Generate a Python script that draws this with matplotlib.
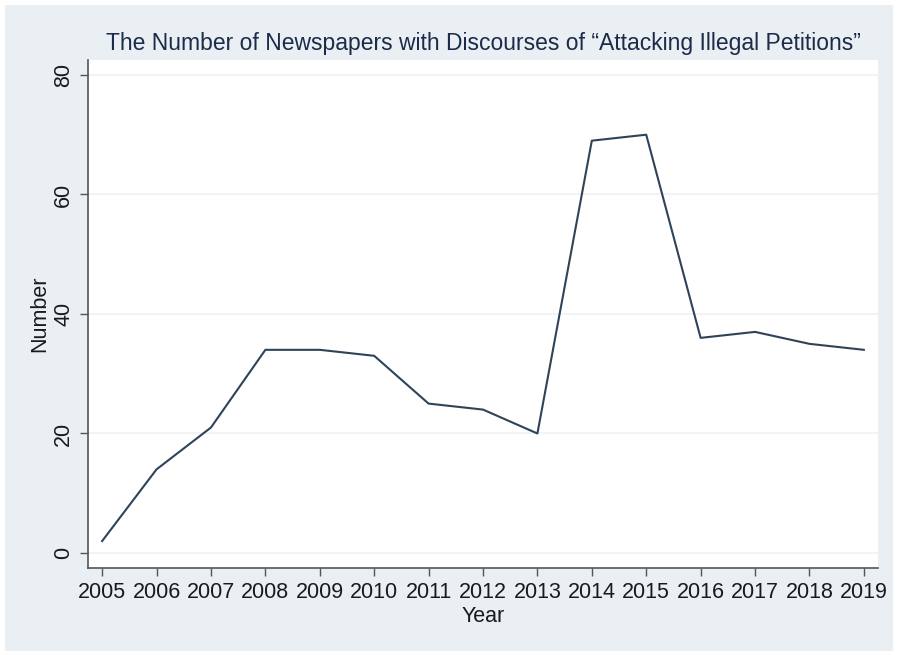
import matplotlib.pyplot as plt
from matplotlib.patches import Rectangle

years = [2005, 2006, 2007, 2008, 2009, 2010, 2011, 2012, 2013, 2014, 2015, 2016, 2017, 2018, 2019]
counts = [2, 14, 21, 34, 34, 33, 25, 24, 20, 69, 70, 36, 37, 35, 34]

plt.rcParams['font.family'] = ['Liberation Sans', 'DejaVu Sans']

fig = plt.figure(figsize=(8.98, 6.55), dpi=100)
fig.patch.set_facecolor("white")
# light stata-like background panel
fig.patches.append(Rectangle((5 / 898, 4 / 655), 888 / 898, 646 / 655,
                             transform=fig.transFigure, facecolor="#e9eff2",
                             edgecolor="none", zorder=-10))

ax = fig.add_axes([88 / 898, 87 / 655, 790 / 898, 508 / 655])
ax.set_facecolor("white")
ax.plot(years, counts, color="#2f4358", linewidth=1.5)

ax.set_xlim(2004.74, 2019.26)
ax.set_ylim(-2.51, 82.5)
ax.set_xticks(years)
ax.set_yticks([0, 20, 40, 60, 80])
ax.grid(axis="y", color="#eef2f4", linewidth=1.2)
ax.set_axisbelow(True)

for s in ["top", "right"]:
    ax.spines[s].set_visible(False)
for s in ["left", "bottom"]:
    ax.spines[s].set_color("#555555")
    ax.spines[s].set_linewidth(1.2)

ax.tick_params(axis="both", colors="#555555", length=6, width=1.0, labelsize=15.5,
               labelcolor="#1a1a1a", pad=4)
for lab in ax.get_yticklabels():
    lab.set_rotation(90)
    lab.set_va("center")

ax.set_xlabel("Year", fontsize=15.5, color="#1a1a1a", labelpad=2)
ax.set_ylabel("Number", fontsize=15.5, color="#1a1a1a", labelpad=2)
ax.set_title("The Number of Newspapers with Discourses of \u201cAttacking Illegal Petitions\u201d",
             fontsize=16.5, color="#1c2b4a", pad=7)

fig.savefig("out.png", dpi=100, facecolor=fig.get_facecolor())
